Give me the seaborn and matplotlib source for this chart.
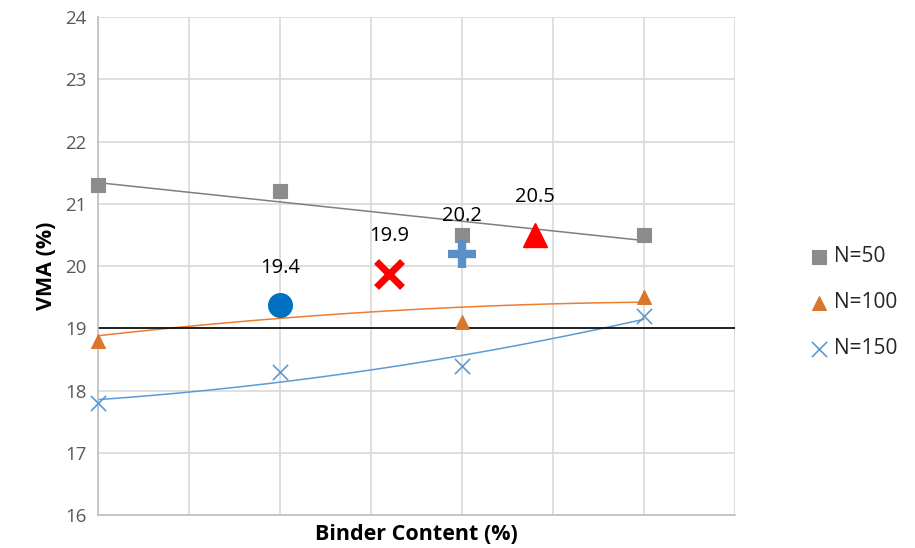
import numpy as np
import pandas as pd
import matplotlib
matplotlib.use('Agg')
import matplotlib.pyplot as plt
import seaborn as sns

# x positions (unlabelled binder content steps)
binder = [0, 2, 4, 6]
vma_n50 = [21.3, 21.2, 20.5, 20.5]
vma_n100 = [18.8, 19.4, 19.1, 19.5]
vma_n150 = [17.8, 18.3, 18.4, 19.2]

# highlighted design points
design_x = [2, 3.2, 4, 4.8]
design_y = [19.37, 19.87, 20.2, 20.5]
design_labels = ['19.4', '19.9', '20.2', '20.5']

sns.set_theme(style='white')
plt.rcParams['font.family'] = ['Open Sans', 'DejaVu Sans']

fig = plt.figure(figsize=(9.15, 5.48), dpi=100)
ax = fig.add_axes([0.107, 0.060, 0.696, 0.909])

c50, c100, c150 = '#8C8C8C', '#D9772C', '#5B9BD5'

# trendlines: linear for N=50, 2nd order poly for N=100/150
xs = np.linspace(0, 6, 100)
for yv, deg, col in [(vma_n50, 1, '#7F7F7F'), (vma_n100, 2, '#ED7D31'), (vma_n150, 2, '#5B9BD5')]:
    fit = np.polyval(np.polyfit(binder, yv, deg), xs)
    sns.lineplot(x=xs, y=fit, color=col, lw=1.1, ax=ax, zorder=2)

ax.axhline(19, color='black', lw=1.2, zorder=2)

df = pd.DataFrame({'x': binder * 3,
                   'vma': vma_n50 + vma_n100 + vma_n150,
                   'N': ['N=50'] * 4 + ['N=100'] * 4 + ['N=150'] * 4})
sns.scatterplot(data=df[df.N == 'N=50'], x='x', y='vma', marker='s', s=100, color=c50,
                edgecolor=c50, label='N=50', ax=ax, zorder=3, clip_on=False)
sns.scatterplot(data=df[df.N == 'N=100'], x='x', y='vma', marker='^', s=100, color=c100,
                edgecolor=c100, label='N=100', ax=ax, zorder=3, clip_on=False)
sns.scatterplot(data=df[df.N == 'N=150'], x='x', y='vma', marker='x', s=120, color=c150,
                linewidth=1.2, label='N=150', ax=ax, zorder=3, clip_on=False)

# design points
ax.plot(design_x[0], design_y[0], 'o', ms=17, color='#0070C0', zorder=4)
ax.plot(design_x[1], design_y[1], 'x', ms=19, mew=5, color='#FF0000', zorder=4)
ax.plot(design_x[2], design_y[2], '+', ms=20, mew=6, color='#5B8FC8', zorder=4)
ax.plot(design_x[3], design_y[3], '^', ms=17, color='#FF0000', zorder=4)
for x, y, t in zip(design_x, design_y, design_labels):
    ax.annotate(t, (x, y), xytext=(0, 20), textcoords='offset points',
                ha='center', va='bottom', fontsize=14.5, color='black')

ax.set_xlim(0, 7)
ax.set_ylim(16, 24)
ax.set_xticks(range(0, 8))
ax.set_xticklabels([])
ax.set_yticks(range(16, 25))
ax.tick_params(axis='y', labelsize=13.5, labelcolor='#595959', length=0, pad=8)
ax.tick_params(axis='x', length=0)
ax.grid(True, color='#D9D9D9', lw=1.2)
ax.set_axisbelow(True)
for s in ['top', 'right']:
    ax.spines[s].set_visible(False)
for s in ['left', 'bottom']:
    ax.spines[s].set_color('#BFBFBF')
    ax.spines[s].set_linewidth(1.2)

ax.set_xlabel('Binder Content (%)', fontsize=15.5, fontweight='bold', color='black', labelpad=3)
ax.set_ylabel('VMA (%)', fontsize=15.5, fontweight='bold', color='black', labelpad=6)

ax.legend(loc='center left', bbox_to_anchor=(1.1, 0.426), frameon=False, fontsize=15,
          labelspacing=1.2, handletextpad=0.2, handlelength=1.0, borderpad=0)

fig.savefig('out.png', dpi=100)
